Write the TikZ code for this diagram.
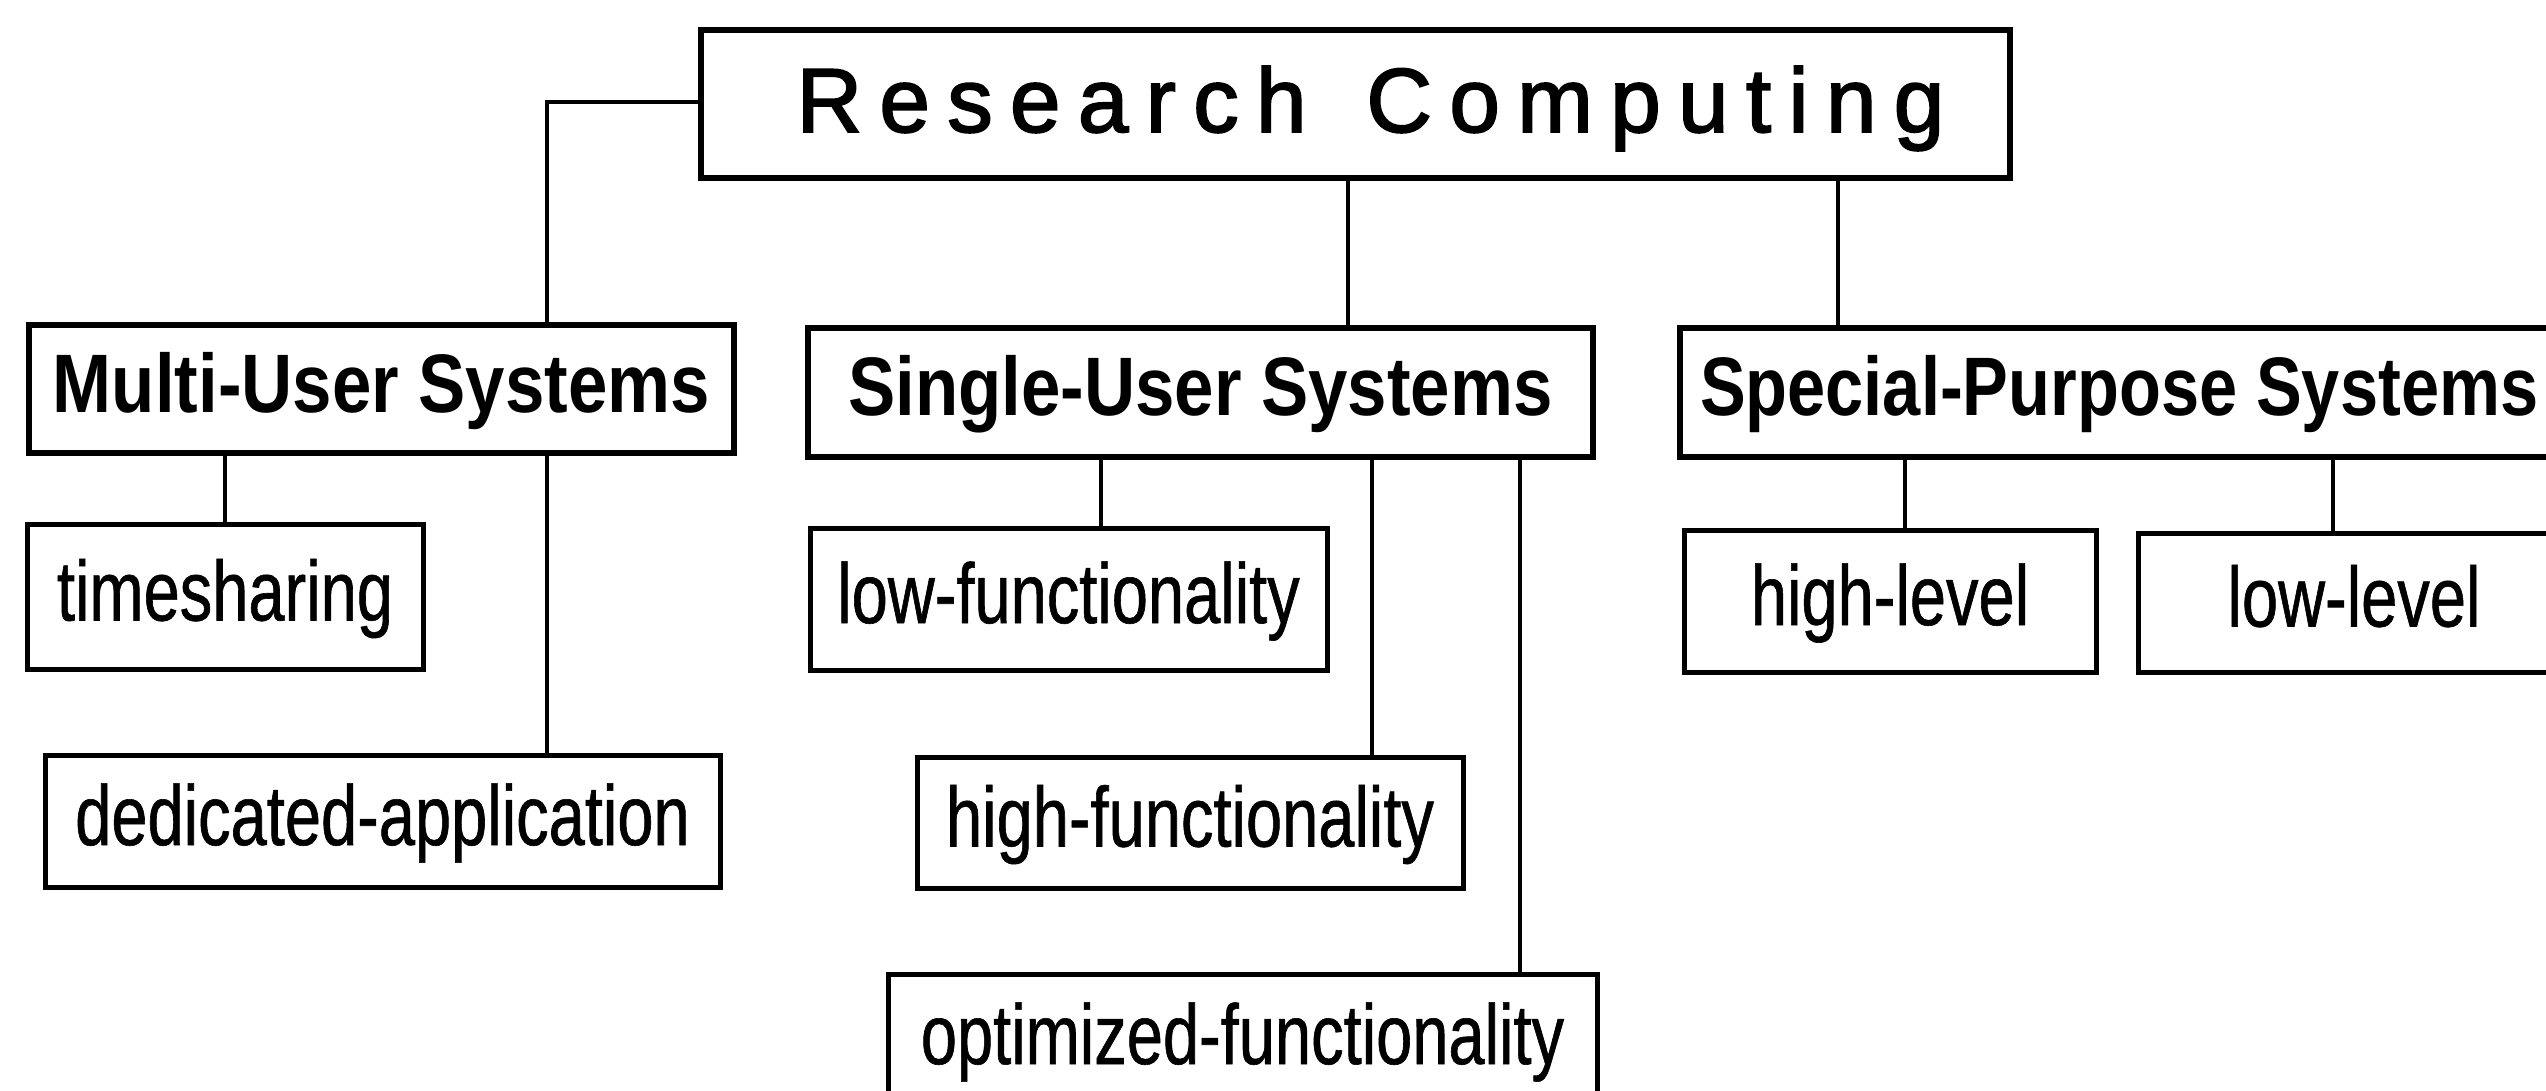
\documentclass[tikz,border=0pt]{standalone}
\usepackage{fontspec}
\setmainfont{Liberation Sans}
\newfontfamily\leaffam[FakeStretch=0.765,FakeBold=0.7]{Liberation Sans}
\newfontfamily\catfam[FakeStretch=0.853]{Liberation Sans}
\newfontfamily\specfam[FakeStretch=0.826]{Liberation Sans}
\newfontfamily\topfam[FakeBold=2]{Liberation Sans}
\newcommand\topstyle{\topfam\fontsize{91}{100}\selectfont}
\newcommand\catstyle{\catfam\bfseries\fontsize{83}{90}\selectfont}
\newcommand\specstyle{\specfam\bfseries\fontsize{83}{90}\selectfont}
\newcommand\leafstyle{\leaffam\fontsize{85}{90}\selectfont}
\begin{document}
\begin{tikzpicture}[x=1pt,y=-1pt,
  every node/.style={inner sep=0pt, outer sep=0pt},
  topbox/.style={draw, line width=5.5pt, anchor=north west, text height=66pt, text depth=10pt, font=\topstyle},
  catbox/.style={draw, line width=5.5pt, anchor=north west, text height=60pt, text depth=14pt, font=\catstyle},
  leafbox/.style={draw, line width=5pt, anchor=north west, text height=62pt, text depth=14pt, font=\leafstyle},
  link/.style={line width=4.5pt}]
\useasboundingbox (0,0) rectangle (2546,1090);
\clip (0,0) rectangle (2546,1090);
\fill[white] (0,0) rectangle (2546,1090);

% top
\node[topbox, minimum width=1309pt, minimum height=148pt] (rc) at (701,30)
  {\hspace*{30pt}\makebox[1148pt][s]{R\hfill e\hfill s\hfill e\hfill a\hfill r\hfill c\hfill h\hfill\ \hfill C\hfill o\hfill m\hfill p\hfill u\hfill t\hfill i\hfill n\hfill g}};

% categories
\node[catbox, minimum width=705pt, minimum height=128pt] (multi) at (29,325) {Multi-User Systems};
\node[catbox, minimum width=785pt, minimum height=129pt] (single) at (808,328) {Single-User Systems};
\node[catbox, minimum width=890pt, minimum height=129pt, font=\specstyle] (special) at (1680,328) {\hspace*{20pt}Special-Purpose Systems\hspace*{40pt}};

% leaves
\node[leafbox, minimum width=396pt, minimum height=145pt] (ts) at (27,524) {timesharing};
\node[leafbox, minimum width=675pt, minimum height=132pt] (ded) at (45,755) {dedicated-application};
\node[leafbox, minimum width=517pt, minimum height=142pt] (low) at (810,528) {low-functionality};
\node[leafbox, minimum width=546pt, minimum height=131pt] (hf) at (917,757) {high-functionality};
\node[leafbox, minimum width=709pt, minimum height=132pt] (opt) at (888,974) {optimized-functionality};
\node[leafbox, minimum width=412pt, minimum height=142pt] (hl) at (1684,530) {high-level};
\node[leafbox, minimum width=432pt, minimum height=139pt] (ll) at (2138,533) {low-level};

% connector x positions
\coordinate (xa) at (547,0);
\coordinate (xb) at (1101,0);
\coordinate (xc) at (1372,0);
\coordinate (xd) at (1520,0);
\coordinate (xe) at (1905,0);
\coordinate (xf) at (2333,0);
\coordinate (xg) at (1348,0);
\coordinate (xh) at (1838,0);
\coordinate (ya) at (0,102);

\draw[link] (rc.west |- ya) -- (xa |- ya) -- (multi.north -| xa);
\draw[link] (rc.south -| xg) -- (single.north -| xg);
\draw[link] (rc.south -| xh) -- (special.north -| xh);
\draw[link] (multi.south -| ts.north) -- (ts.north);
\draw[link] (multi.south -| xa) -- (ded.north -| xa);
\draw[link] (single.south -| xb) -- (low.north -| xb);
\draw[link] (single.south -| xc) -- (hf.north -| xc);
\draw[link] (single.south -| xd) -- (opt.north -| xd);
\draw[link] (special.south -| xe) -- (hl.north -| xe);
\draw[link] (special.south -| xf) -- (ll.north -| xf);
\end{tikzpicture}
\end{document}
